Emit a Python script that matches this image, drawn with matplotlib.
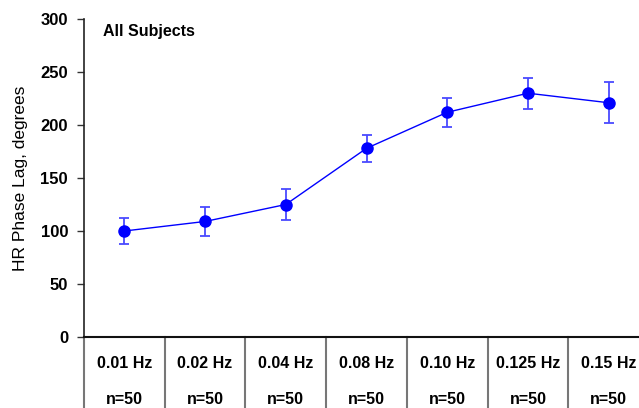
import matplotlib
matplotlib.use("Agg")
import matplotlib.pyplot as plt

# Stimulation frequencies and the per-frequency sample size
freq_labels = ["0.01 Hz", "0.02 Hz", "0.04 Hz", "0.08 Hz", "0.10 Hz", "0.125 Hz", "0.15 Hz"]
n_labels = ["n=50", "n=50", "n=50", "n=50", "n=50", "n=50", "n=50"]

# Mean heart-rate phase lag (degrees) and its standard error
phase_lag = [100, 109, 125, 178, 212, 230, 221]
phase_err = [12.5, 14, 15, 12.5, 13.5, 14.5, 19.5]

plt.rcParams["font.family"] = ["Liberation Sans", "DejaVu Sans"]

W, H = 639, 408
fig = plt.figure(figsize=(W / 100, H / 100), dpi=100)
left_px, right_px, top_px, bottom_px = 84, 649, 19, 337
ax = fig.add_axes([left_px / W, (H - bottom_px) / H,
                   (right_px - left_px) / W, (bottom_px - top_px) / H])

x = list(range(len(phase_lag)))
blue = "#0000ff"
ax.errorbar(x, phase_lag, yerr=phase_err, color=blue, lw=1.0,
            marker="o", markersize=8, markeredgecolor=blue,
            ecolor="#4a4aff", elinewidth=1.3, capsize=3.5, capthick=1.3,
            clip_on=False, zorder=3)

ax.set_xlim(-0.5, len(x) - 0.5)
ax.set_ylim(0, 300)
ax.set_yticks(range(0, 301, 50))
ax.set_xticks([])
for lab in ax.get_yticklabels():
    lab.set_fontweight("bold")
    lab.set_fontsize(12)
ax.tick_params(axis="y", direction="out", length=5, width=1, color="#333333", pad=6.5)

for side in ("top", "right"):
    ax.spines[side].set_visible(False)
ax.spines["left"].set_color("#222222")
ax.spines["bottom"].set_color("#111111")
ax.spines["left"].set_linewidth(1.2)
ax.spines["bottom"].set_linewidth(1.5)

ax.set_ylabel("HR Phase Lag, degrees", fontsize=12.5, labelpad=9)

ax.text(0.033, 0.985, "All Subjects", transform=ax.transAxes, fontsize=11.5,
        fontweight="bold", va="top", ha="left")

# Category table under the axis
tr = ax.get_xaxis_transform()
for i in range(len(x) + 1):
    ax.plot([i - 0.5, i - 0.5], [0, -0.3], transform=tr, color="#777777",
            lw=1.5, clip_on=False, zorder=1)
for xi, fl, nl in zip(x, freq_labels, n_labels):
    ax.text(xi, -0.082, fl, transform=tr, ha="center", va="center",
            fontsize=11.5, fontweight="bold")
    ax.text(xi, -0.195, nl, transform=tr, ha="center", va="center",
            fontsize=11.5, fontweight="bold")

fig.savefig("out.png", dpi=100, facecolor="white")
